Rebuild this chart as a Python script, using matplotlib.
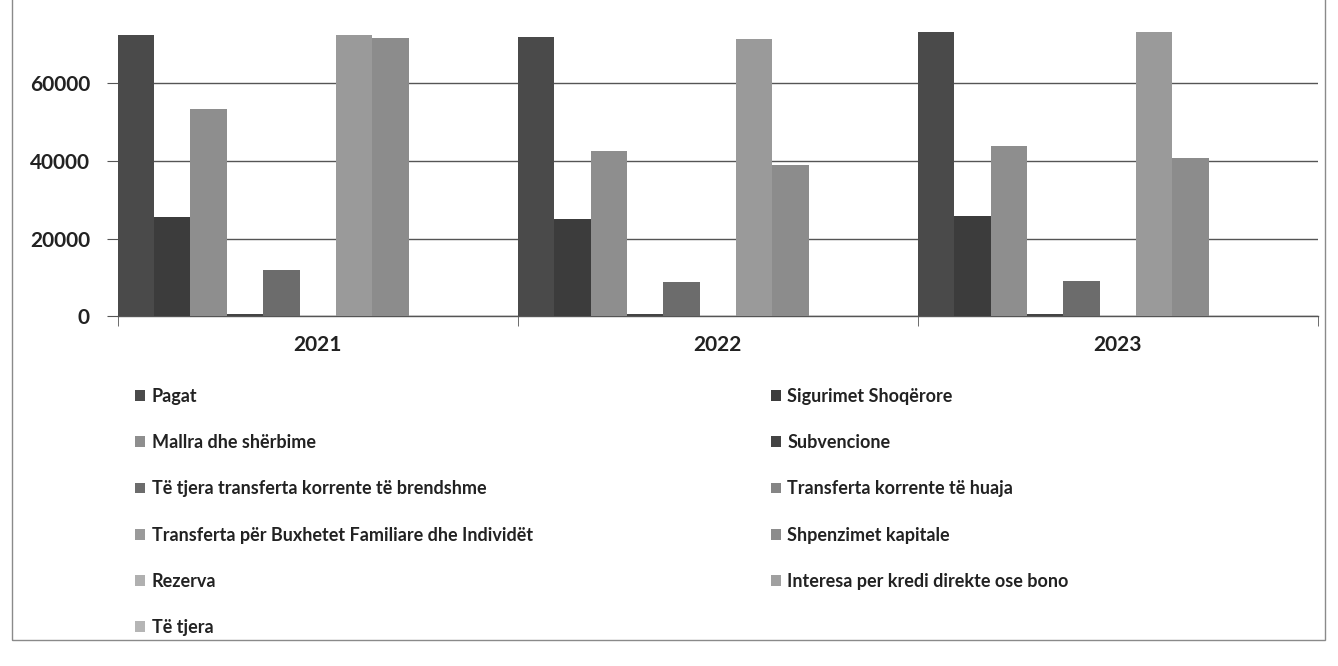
import matplotlib
matplotlib.use("Agg")
import matplotlib.pyplot as plt
from matplotlib.patches import Rectangle, Patch
import numpy as np

years = ["2021", "2022", "2023"]
series_names = [
    "Pagat",
    "Sigurimet Shoqërore",
    "Mallra dhe shërbime",
    "Subvencione",
    "Të tjera transferta korrente të brendshme",
    "Transferta korrente të huaja",
    "Transferta për Buxhetet Familiare dhe Individët",
    "Shpenzimet kapitale",
    "Rezerva",
    "Interesa per kredi direkte ose bono",
    "Të tjera",
]
pagat = [72500, 72000, 73400]
sigurimet = [25500, 25100, 25900]
mallra = [53300, 42500, 43900]
subvencione = [500, 400, 400]
tjera_transferta = [12000, 8900, 9000]
transferta_huaja = [100, 100, 100]
transferta_buxhetet = [72400, 71500, 73300]
shpenzimet_kapitale = [71800, 38900, 40900]
rezerva = [0, 0, 0]
interesa = [0, 0, 0]
te_tjera = [0, 0, 0]

values = [pagat, sigurimet, mallra, subvencione, tjera_transferta,
          transferta_huaja, transferta_buxhetet, shpenzimet_kapitale,
          rezerva, interesa, te_tjera]
colors = ["#4a4a4a", "#3c3c3c", "#8e8e8e", "#444444", "#6c6c6c",
          "#858585", "#9a9a9a", "#8c8c8c", "#b0b0b0", "#a0a0a0", "#b5b5b5"]

plt.rcParams['font.family'] = ['Lato', 'DejaVu Sans']

fig = plt.figure(figsize=(13.38, 6.66), dpi=100)
ax = fig.add_axes([0.088, 0.5255, 0.897, 0.4655])

n = len(values)
w = 1.0 / n
x = np.arange(len(years))
for i, (vals, c, name) in enumerate(zip(values, colors, series_names)):
    ax.bar(x - 0.5 + w * (i + 0.5), vals, width=w, color=c, label=name, zorder=3)

ax.set_xlim(-0.5, 2.5)
ax.set_ylim(0, 80000)
ax.set_yticks([0, 20000, 40000, 60000])
ax.yaxis.grid(True, color="#555555", lw=1.0, zorder=0)
ax.set_axisbelow(True)
for s in ["top", "right", "left"]:
    ax.spines[s].set_visible(False)
ax.spines["bottom"].set_color("#555555")
ax.spines["bottom"].set_linewidth(1.0)

ax.set_xticks(x)
ax.set_xticklabels(years, fontsize=15, fontweight="bold", color="#222222")
ax.tick_params(axis="x", which="major", length=0, pad=14)
ax.set_xticks([-0.5, 0.5, 1.5, 2.5], minor=True)
ax.tick_params(axis="x", which="minor", length=7, color="#555555", direction="out")
ax.tick_params(axis="y", length=8, color="#555555", pad=12, labelsize=15)
for lab in ax.get_yticklabels():
    lab.set_fontweight("bold")
    lab.set_color("#222222")

order = [0, 2, 4, 6, 8, 10, 1, 3, 5, 7, 9]
leg_handles = [Patch(facecolor=colors[i]) for i in order]
leg_labels = [series_names[i] for i in order]
fig.legend(leg_handles, leg_labels, ncol=2, loc="upper left",
           bbox_to_anchor=(0.089, 0.442), frameon=False,
           prop={"size": 13, "weight": "bold"},
           handlelength=0.55, handleheight=0.55, handletextpad=0.35,
           labelspacing=1.62, columnspacing=13.2, labelcolor="#222222")

fig.add_artist(Rectangle((12 / 1338, 1 - 640 / 666), 1313 / 1338, 640 / 666 + 0.05,
                         transform=fig.transFigure, fill=False,
                         edgecolor="#8a8a8a", lw=1.0))

fig.savefig("out.png", dpi=100)
